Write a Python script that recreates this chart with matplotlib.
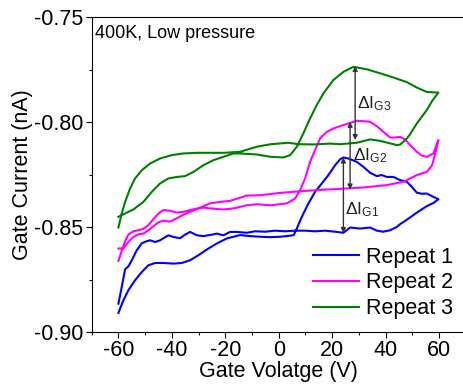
import matplotlib
matplotlib.use("Agg")
import matplotlib.pyplot as plt
import matplotlib.ticker as ticker

plt.rcParams['font.family'] = ['Liberation Sans', 'DejaVu Sans']
plt.rcParams['mathtext.fontset'] = 'custom'
plt.rcParams['mathtext.rm'] = 'Liberation Sans'
plt.rcParams['mathtext.it'] = 'Liberation Sans:italic'
plt.rcParams['axes.unicode_minus'] = False

# Repeat 1 (blue): sweep -60 -> 60 and back
v1 = [-60.0, -58.13, -56.26, -53.75, -51.24, -48.77, -46.27, -43.16, -39.42, -36.27,
      -33.17, -30.06, -26.92, -23.17, -19.43, -14.45, -10.71, -6.97, -3.23, 0.52,
      4.26, 5.6, 6.77, 8.64, 11.11, 13.62, 16.12, 18.59, 21.10, 22.97,
      24.21, 26.08, 29.22, 31.69, 34.20, 36.71, 38.58, 40.45, 42.92, 45.43,
      47.93, 49.80, 51.68, 53.55, 55.42, 57.89, 59.76,
      57.89, 55.42, 51.68, 47.93, 45.43, 44.19, 41.68, 39.06, 36.71,
      34.20, 30.46, 26.71, 24.21, 21.10, 17.36, 13.62, 9.87, 6.13, 2.39,
      -1.35, -5.10, -8.84, -11.95, -15.69, -18.20, -20.70, -23.17, -25.04, -28.19,
      -30.66, -33.17, -35.04, -36.91, -39.42, -41.29, -43.16, -44.39, -46.27, -48.14,
      -49.37, -51.24, -53.11, -54.99, -56.26, -57.49, -58.73, -60.0]
i1 = [-0.8909, -0.8849, -0.8801, -0.8753, -0.8714, -0.8682, -0.8671, -0.8671, -0.8674, -0.8671,
      -0.8658, -0.8634, -0.8607, -0.8578, -0.8554, -0.8538, -0.8543, -0.8546, -0.8548, -0.8546,
      -0.8541, -0.8538, -0.8507, -0.8451, -0.8387, -0.8332, -0.8292, -0.8252, -0.8205, -0.8177,
      -0.8168, -0.8173, -0.8189, -0.8213, -0.8241, -0.8257, -0.8252, -0.8261, -0.8261, -0.8276,
      -0.8284, -0.8308, -0.8336, -0.8341, -0.8340, -0.8356, -0.8367,
      -0.8385, -0.8400, -0.8431, -0.8465, -0.8486, -0.8499, -0.8515, -0.8522, -0.8517,
      -0.8502, -0.8507, -0.8502, -0.8527, -0.8522, -0.8517, -0.8520, -0.8517, -0.8517, -0.8520,
      -0.8517, -0.8522, -0.8520, -0.8527, -0.8523, -0.8523, -0.8539, -0.8531, -0.8536, -0.8543,
      -0.8539, -0.8523, -0.8536, -0.8553, -0.8547, -0.8539, -0.8553, -0.8563, -0.8571, -0.8563,
      -0.8567, -0.8577, -0.8610, -0.8658, -0.8687, -0.8701, -0.8785, -0.8865]

# Repeat 2 (magenta)
v2 = [-60.0, -58.73, -57.49, -56.26, -54.39, -52.51, -50.64, -48.77, -46.90, -45.03,
      -43.16, -40.65, -38.14, -35.67, -33.17, -30.66, -28.19, -25.68, -20.70, -16.96,
      -11.95, -8.20, -2.99, 3.02, 6.13, 8.00, 9.87, 11.74, 13.62, 15.49,
      17.99, 20.46, 22.97, 26.08, 29.22, 34.20, 36.71, 39.18, 41.68, 43.55,
      45.43, 47.30, 49.17, 51.68, 53.55, 55.42, 57.89, 59.76,
      58.64, 57.40, 55.42, 51.68, 46.66, 40.45, 31.69, 25.48, 17.99, 10.51,
      0.52, -6.97, -11.95, -14.45, -18.20, -21.94, -25.68, -28.19, -30.66, -33.17,
      -35.67, -38.14, -40.65, -43.16, -45.03, -46.90, -48.77, -50.64, -52.51, -54.39,
      -56.26, -58.13, -60.0]
i2 = [-0.8661, -0.8613, -0.8567, -0.8536, -0.8520, -0.8515, -0.8508, -0.8491, -0.8462, -0.8436,
      -0.8419, -0.8422, -0.8431, -0.8427, -0.8419, -0.8412, -0.8407, -0.8411, -0.8416, -0.8411,
      -0.8396, -0.8391, -0.8396, -0.8387, -0.8364, -0.8324, -0.8268, -0.8189, -0.8133, -0.8077,
      -0.8046, -0.8030, -0.8019, -0.8006, -0.7993, -0.7998, -0.8019, -0.8046, -0.8073, -0.8073,
      -0.8070, -0.8082, -0.8109, -0.8141, -0.8159, -0.8165, -0.8149, -0.8085,
      -0.8147, -0.8205, -0.8237, -0.8252, -0.8284, -0.8300, -0.8311, -0.8316, -0.8321, -0.8327,
      -0.8337, -0.8348, -0.8350, -0.8360, -0.8375, -0.8380, -0.8387, -0.8400, -0.8415, -0.8427,
      -0.8441, -0.8458, -0.8474, -0.8469, -0.8477, -0.8496, -0.8515, -0.8531, -0.8534, -0.8547,
      -0.8571, -0.8602, -0.8602]

# Repeat 3 (green)
v3 = [-60.0, -57.49, -54.39, -50.64, -47.50, -44.39, -41.29, -38.14, -35.04, -31.93,
      -28.19, -24.45, -20.70, -16.96, -14.45, -8.20, -2.99, 1.75, 4.26, 6.77,
      9.24, 11.74, 14.25, 16.72, 20.46, 24.21, 27.95, 32.96, 37.94, 42.92,
      47.93, 51.68, 55.42, 59.76,
      57.40, 55.42, 51.68, 49.17, 47.93, 45.43, 44.19, 41.68, 37.94, 34.20,
      29.22, 22.97, 19.23, 12.99, 7.37, 3.62, -2.99, -8.20, -14.45, -20.70,
      -25.68, -30.66, -35.67, -40.02, -44.39, -48.14, -51.24, -53.75, -55.62, -57.49,
      -58.73, -60.0]
i3 = [-0.8451, -0.8435, -0.8416, -0.8380, -0.8332, -0.8292, -0.8268, -0.8261, -0.8257, -0.8237,
      -0.8205, -0.8181, -0.8165, -0.8149, -0.8149, -0.8154, -0.8165, -0.8168, -0.8157, -0.8117,
      -0.8053, -0.7982, -0.7918, -0.7863, -0.7799, -0.7760, -0.7736, -0.7748, -0.7767, -0.7787,
      -0.7809, -0.7835, -0.7856, -0.7859,
      -0.7899, -0.7942, -0.8006, -0.8057, -0.8078, -0.8107, -0.8109, -0.8101, -0.8089, -0.8082,
      -0.8098, -0.8105, -0.8102, -0.8106, -0.8105, -0.8098, -0.8105, -0.8117, -0.8141, -0.8146,
      -0.8146, -0.8146, -0.8149, -0.8157, -0.8173, -0.8197, -0.8229, -0.8268, -0.8316, -0.8380,
      -0.8435, -0.8502]

labels = ['Repeat 1', 'Repeat 2', 'Repeat 3']
colors = ['#0000FF', '#FF00FF', '#008000']

# delta I markers: (x, y_top, y_bottom, text)
delta_x = [24.2, 26.7, 28.6]
delta_top = [-0.8168, -0.7998, -0.7732]
delta_bot = [-0.8528, -0.8321, -0.8085]
delta_txt = [r'$\Delta \mathrm{I}_{\mathrm{G1}}$', r'$\Delta \mathrm{I}_{\mathrm{G2}}$',
             r'$\Delta \mathrm{I}_{\mathrm{G3}}$']
txt_pos = [(24.9, -0.8438), (27.8, -0.8181), (29.3, -0.7934)]

fig = plt.figure(figsize=(4.63, 3.84), dpi=100)
ax = fig.add_axes([0.198, 0.1354, 0.808, 0.8196])

for v, i, lab, c in zip([v1, v2, v3], [i1, i2, i3], labels, colors):
    ax.plot(v, i, color=c, lw=1.5, label=lab, solid_joinstyle='round')

for x, yt, yb in zip(delta_x, delta_top, delta_bot):
    ax.annotate('', xy=(x, yt), xytext=(x, yb),
                arrowprops=dict(arrowstyle='<|-|>', color='#333333', lw=1.0,
                                mutation_scale=7, shrinkA=0, shrinkB=0))
for (tx, ty), t in zip(txt_pos, delta_txt):
    ax.text(tx, ty, t, fontsize=12.5, color='#222222', va='baseline', ha='left')

ax.set_xlim(-70, 70)
ax.set_ylim(-0.90, -0.75)
ax.xaxis.set_major_locator(ticker.MultipleLocator(20))
ax.xaxis.set_minor_locator(ticker.MultipleLocator(10))
ax.yaxis.set_major_locator(ticker.MultipleLocator(0.05))
ax.yaxis.set_minor_locator(ticker.MultipleLocator(0.025))
ax.yaxis.set_major_formatter(ticker.FormatStrFormatter('%.2f'))
ax.tick_params(which='both', direction='out', top=False, right=False, width=0.8,
               labelsize=15.5, pad=2)
ax.tick_params(which='major', length=4)
ax.tick_params(which='minor', length=2.5)
for s in ax.spines.values():
    s.set_linewidth(0.8)

ax.set_xlabel('Gate Volatge (V)', fontsize=15.5, labelpad=0)
ax.set_ylabel('Gate Current (nA)', fontsize=15.5, labelpad=1)

ax.text(0.009, 0.935, '400K, Low pressure', transform=ax.transAxes, fontsize=13,
        va='baseline', ha='left')

ax.legend(loc='lower right', bbox_to_anchor=(1.0, 0.0), frameon=False, fontsize=15.5,
          handlelength=2.15, handletextpad=0.3, labelspacing=0.22, borderaxespad=0.2)

fig.savefig('out.png', dpi=100)
